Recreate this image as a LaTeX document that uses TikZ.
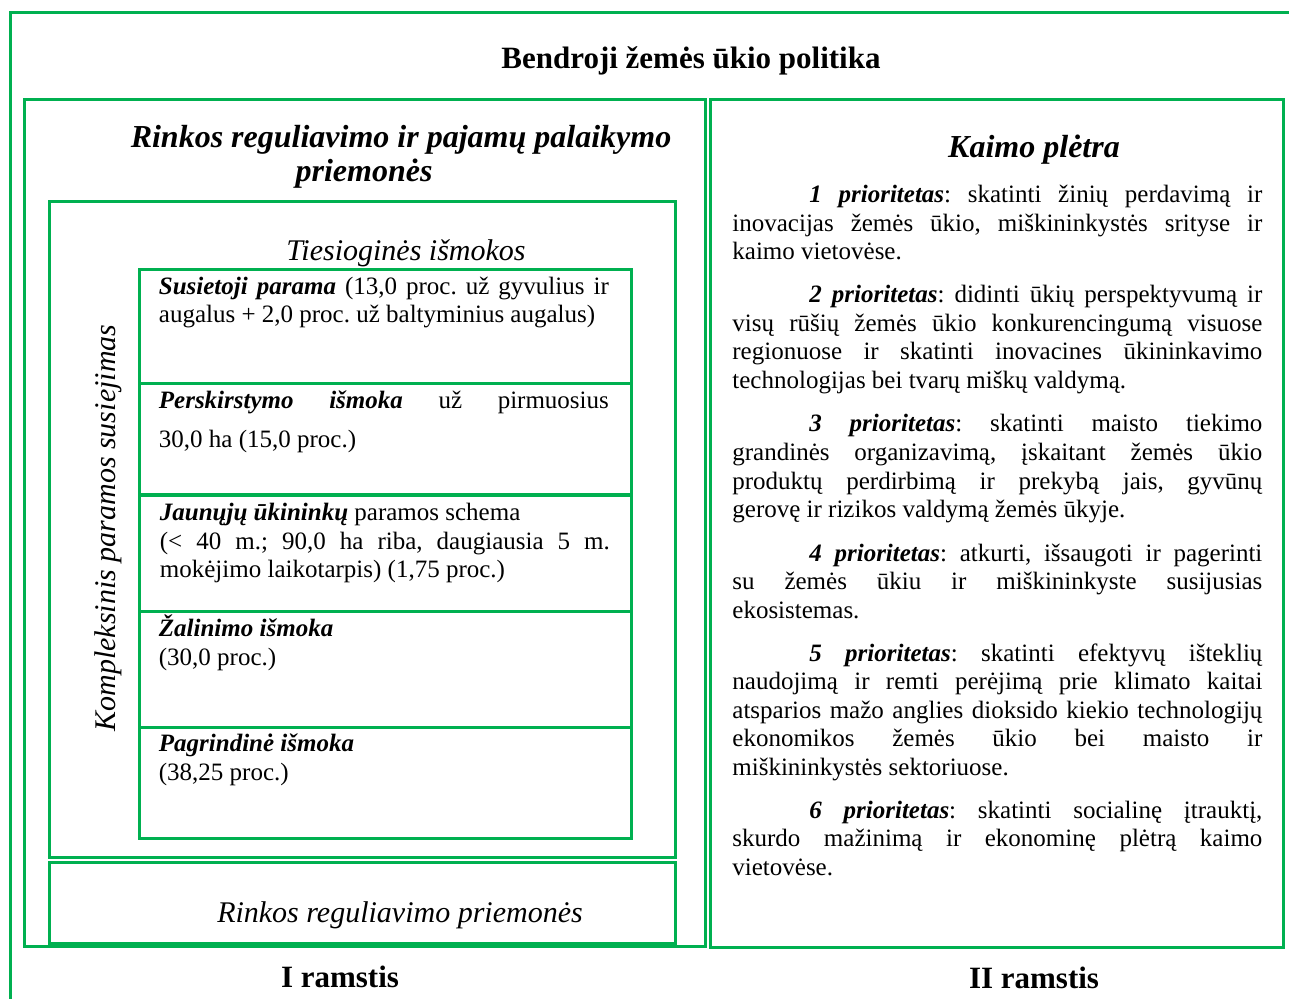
\documentclass[tikz,border=0pt]{standalone}
\usepackage{fontspec}
\setmainfont{Liberation Serif}
\usetikzlibrary{positioning}
\definecolor{pillargreen}{RGB}{0,176,80}
\tikzset{
  greenbox/.style={draw=pillargreen, line width=1.5pt, inner sep=0pt},
  boxtext/.style={font=\fontsize{12.5}{14.25}\selectfont\frenchspacing, text width=225pt, align=justify, inner sep=0pt, anchor=base west},
  priotext/.style={font=\fontsize{12.5}{14.25}\selectfont\frenchspacing, text width=265pt, align=justify, inner sep=0pt, anchor=base west},
  headbold/.style={font=\fontsize{15.5}{17}\selectfont\bfseries, inner sep=0pt},
  headitalic/.style={font=\fontsize{15}{17}\selectfont\itshape, inner sep=0pt},
}
\newcommand{\prio}[1]{\hspace*{38.5pt}\textbf{\textit{#1 prioritetas}}:}

\begin{document}
\begin{tikzpicture}[x=0.5pt, y=-0.5pt]
\useasboundingbox (0,0) rectangle (1289,999);
\clip (0,0) rectangle (1289,999);
% outer frame, runs off the page at right and bottom
\draw[pillargreen, line width=1.5pt] (10,13) rectangle (1330,1040);
\node[headbold] (cap) at (691,61) {Bendroji žemės ūkio politika};

% two pillars
\node[greenbox, minimum width=340.5pt, minimum height=423pt] (pillarone) at (364.5,523) {};
\node[greenbox, minimum width=286.5pt, minimum height=423.5pt] (pillartwo) at (996.5,523.5) {};
\node[headbold] (pillaronelabel) at (340,977) {I ramstis};
\node[headbold] (pillartwolabel) at (1034,978) {II ramstis};

% pillar I
\node[font=\fontsize{16}{17}\selectfont\bfseries\itshape, align=center, inner sep=0pt] (marketincome) at (401,157)
  {Rinkos reguliavimo ir pajamų palaikymo\\ priemonės\hspace*{37pt}};
\node[greenbox, minimum width=313pt, minimum height=327.5pt] (directbox) at (362,529.5) {};
\node[greenbox, minimum width=313pt, minimum height=40.5pt] (marketbox) at (362,902.5) {};
\node[headitalic] (directlabel) at (406,253) {Tiesioginės išmokos};
\node[headitalic, rotate=90] (complexlabel) at (108,528) {Kompleksinis paramos susiejimas};
\node[headitalic] (marketlabel) at (400,915) {Rinkos reguliavimo priemonės};

\foreach \name/\yc/\h in {coupled/327/57, redistrib/439.5/55.5, youngfarm/553/58, greening/669/58, basicpay/782.5/55.5}
  \node[greenbox, minimum width=246pt, minimum height=\h pt] (\name) at (385,\yc) {};

\node[boxtext] (coupledtxt) at ([xshift=10.5pt,yshift=-13pt]coupled.north west)
  {\textbf{\textit{Susietoji parama}} (13,0 proc. už gyvulius ir\linebreak augalus + 2,0 proc. už baltyminius augalus)};
\node[boxtext] (redistribtxt) at ([xshift=10.5pt,yshift=-13pt]redistrib.north west)
  {\textbf{\textit{Perskirstymo išmoka}} už pirmuosius\vadjust{\vskip5.25pt}\linebreak 30,0~ha (15,0 proc.)};
\node[boxtext] (youngfarmtxt) at ([xshift=11pt,yshift=-13.5pt]youngfarm.north west)
  {\textbf{\textit{Jaunųjų ūkininkų}} paramos schema\\ (< 40 m.; 90,0 ha riba, daugiausia 5 m.\linebreak mokėjimo laikotarpis) (1,75 proc.)};
\node[boxtext] (greeningtxt) at ([xshift=10.5pt,yshift=-13.5pt]greening.north west)
  {\textbf{\textit{Žalinimo išmoka}}\\ (30,0 proc.)};
\node[boxtext] (basicpaytxt) at ([xshift=10.5pt,yshift=-13pt]basicpay.north west)
  {\textbf{\textit{Pagrindinė išmoka}}\\ (38,25 proc.)};

% pillar II
\node[font=\fontsize{16}{17}\selectfont\bfseries\itshape, inner sep=0pt] (rurallabel) at (1034,150) {Kaimo plėtra};
\node[priotext] (prio1) at (732,203)
  {\prio{1} skatinti žinių perdavimą ir\linebreak inovacijas žemės ūkio, miškininkystės srityse ir\linebreak kaimo vietovėse.};
\node[priotext] (prio2) at (732,303)
  {\prio{2} didinti ūkių perspektyvumą ir\linebreak visų rūšių žemės ūkio konkurencingumą visuose\linebreak regionuose ir skatinti inovacines ūkininkavimo\linebreak technologijas bei tvarų miškų valdymą.};
\node[priotext] (prio3) at (732,432)
  {\prio{3} skatinti maisto tiekimo\linebreak grandinės organizavimą, įskaitant žemės ūkio\linebreak produktų perdirbimą ir prekybą jais, gyvūnų\linebreak gerovę ir rizikos valdymą žemės ūkyje.};
\node[priotext] (prio4) at (732,561)
  {\prio{4} atkurti, išsaugoti ir pagerinti\linebreak su žemės ūkiu ir miškininkyste susijusias\linebreak ekosistemas.};
\node[priotext] (prio5) at (732,661)
  {\prio{5} skatinti efektyvų išteklių\linebreak naudojimą ir remti perėjimą prie klimato kaitai\linebreak atsparios mažo anglies dioksido kiekio technologijų\linebreak ekonomikos žemės ūkio bei maisto ir\linebreak miškininkystės sektoriuose.};
\node[priotext] (prio6) at (732,818)
  {\prio{6} skatinti socialinę įtrauktį,\linebreak skurdo mažinimą ir ekonominę plėtrą kaimo\linebreak vietovėse.};
\end{tikzpicture}
\end{document}
